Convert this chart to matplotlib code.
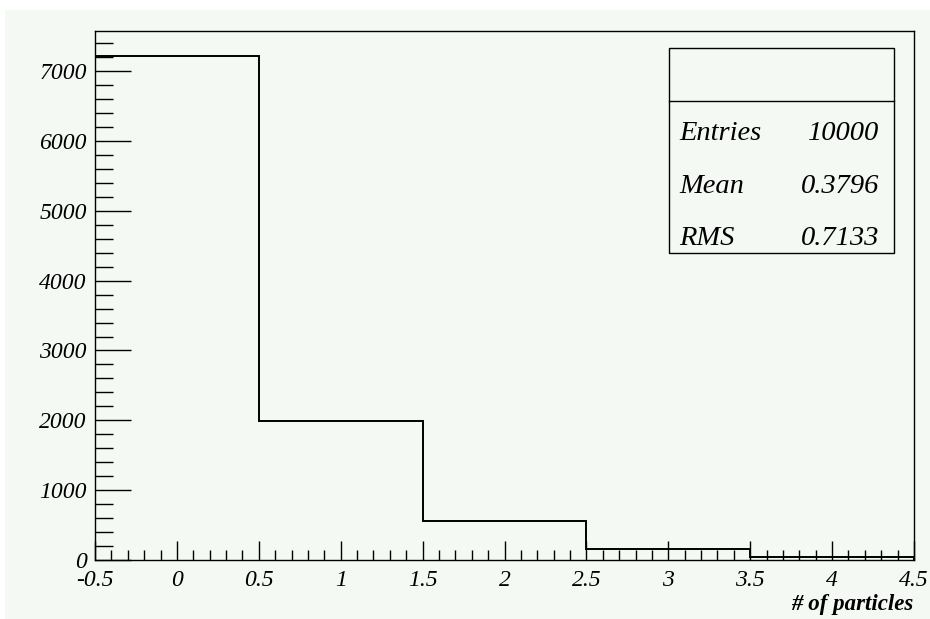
import matplotlib
matplotlib.use("Agg")
import matplotlib.pyplot as plt
from matplotlib.patches import Rectangle
from matplotlib.lines import Line2D
from matplotlib.ticker import MultipleLocator

# Data
bin_edges = [-0.5, 0.5, 1.5, 2.5, 3.5, 4.5]
counts = [7215, 1985, 557, 155, 42]
stats_labels = ["Entries", "Mean", "RMS"]
stats_values = ["10000", "0.3796", "0.7133"]
xlabel = "# of particles"

W, H = 930, 619
fig = plt.figure(figsize=(W / 100, H / 100), dpi=100)
fig.patch.set_facecolor("white")
bg = "#f4f9f3"
fig.patches.append(Rectangle((5 / W, 0), 1 - 5 / W, 1 - 10 / H, transform=fig.transFigure,
                             facecolor=bg, edgecolor="none", zorder=-10))

serif = ["Liberation Serif", "DejaVu Serif"]
ax = fig.add_axes([95 / W, 1 - 560 / H, (914 - 95) / W, (560 - 31) / H])
ax.set_facecolor(bg)
ax.stairs(counts, bin_edges, baseline=0, color="black", linewidth=1.4)
ax.set_xlim(-0.5, 4.5)
ax.set_ylim(0, 7575)

ax.xaxis.set_major_locator(MultipleLocator(0.5))
ax.xaxis.set_minor_locator(MultipleLocator(0.1))
ax.yaxis.set_major_locator(MultipleLocator(1000))
ax.yaxis.set_minor_locator(MultipleLocator(200))
ax.tick_params(axis="x", which="major", direction="in", length=14, width=1, pad=7)
ax.tick_params(axis="x", which="minor", direction="in", length=7, width=1)
ax.tick_params(axis="y", which="major", direction="in", length=26, width=1, pad=6)
ax.tick_params(axis="y", which="minor", direction="in", length=13, width=1)
for s in ax.spines.values():
    s.set_linewidth(1.0)

def fmt(v):
    if abs(v - round(v)) < 1e-9:
        return "%d" % round(v)
    return ("%g" % v)

ax.set_xticks([-0.5 + 0.5 * i for i in range(11)])
ax.set_xticklabels([fmt(-0.5 + 0.5 * i) for i in range(11)])
ax.set_yticks([1000 * i for i in range(8)])
ax.set_yticklabels([str(1000 * i) for i in range(8)])
for lab in ax.get_xticklabels() + ax.get_yticklabels():
    lab.set_fontfamily(serif)
    lab.set_fontstyle("italic")
    lab.set_fontsize(17)

fig.text(913 / W, 1 - 610 / H, xlabel, ha="right", va="baseline",
         fontfamily=serif, fontstyle="italic", fontweight="bold", fontsize=16.5)

# Stats box
x0, x1 = 669 / W, 894 / W
yt, yb, yd = 1 - 48 / H, 1 - 253 / H, 1 - 101 / H
fig.patches.append(Rectangle((x0, yb), x1 - x0, yt - yb, transform=fig.transFigure,
                             facecolor=bg, edgecolor="black", linewidth=1.0, zorder=5))
fig.lines.append(Line2D([x0, x1], [yd, yd], transform=fig.transFigure, color="black",
                        linewidth=1.0, zorder=6))
row_y = [134, 187, 239]
for lab, val, ry in zip(stats_labels, stats_values, row_y):
    fig.text(679 / W, 1 - ry / H, lab, ha="left", va="center", fontfamily=serif,
             fontstyle="italic", fontsize=20.5, zorder=7)
    fig.text(879 / W, 1 - ry / H, val, ha="right", va="center", fontfamily=serif,
             fontstyle="italic", fontsize=20.5, zorder=7)

fig.savefig("out.png", dpi=100, facecolor=fig.get_facecolor())
